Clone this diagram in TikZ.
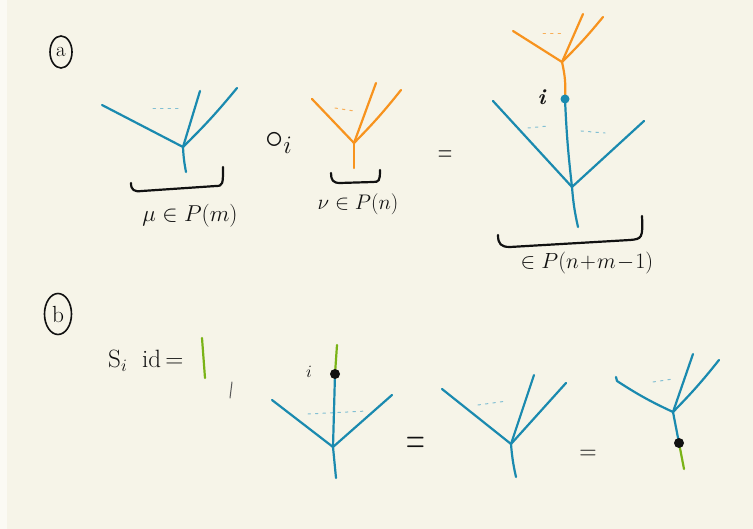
\documentclass[tikz,border=0pt]{standalone}
\usepackage{amssymb}
\usetikzlibrary{shapes.geometric}
\definecolor{bgc}{HTML}{F6F4E8}
\definecolor{stripc}{HTML}{FBFAF4}
\definecolor{tblue}{HTML}{1A8AAF}
\definecolor{torange}{HTML}{F7931E}
\definecolor{tgreen}{HTML}{7AB317}
\definecolor{ink}{HTML}{111111}
\begin{document}
\begin{tikzpicture}[x=1pt,y=-1pt,line cap=round,line join=round,
  bl/.style={tblue,line width=2.2pt},
  orl/.style={torange,line width=2.2pt},
  grl/.style={tgreen,line width=2.2pt},
  bk/.style={ink,line width=2.2pt},
  dotsb/.style={tblue!55,line width=1pt,dash pattern=on 2.5pt off 5pt},
  dotso/.style={torange!75,line width=1pt,dash pattern=on 2.5pt off 5pt},
  lbl/.style={ink,inner sep=0pt,font=\LARGE},
  circ/.style={draw=ink,line width=1.6pt,ellipse,inner sep=0pt,font=\LARGE}]
\fill[bgc] (0,0) rectangle (753,529);
\fill[stripc] (0,0) rectangle (7,529);
\useasboundingbox (0,0) rectangle (753,529);

% ---------- panel a ----------
\node[circ,minimum width=22pt,minimum height=32pt] (ca) at (61,52) {\scalebox{1.2}{a}};

% tree mu
\coordinate (a1r) at (183,147);
\coordinate (a1b) at (186,172);
\coordinate (a1l) at (102,105);
\coordinate (a1m) at (200,91);
\coordinate (a1x) at (237,88);
\draw[bl] (a1b) to[bend left=4] (a1r);
\draw[bl] (a1r) -- (a1l);
\draw[bl] (a1r) -- (a1m);
\draw[bl] (a1r) to[bend right=3] (a1x);
\draw[dotsb] (153,109) -- (178,109);
\draw[bk] (131,183) .. controls (131,190) and (134,192) .. (142,191) -- (216,186) .. controls (223,186) and (223,184) .. (223,167);
\node[lbl] (lmu) at (190,216) {\scalebox{1.33}{$\mu\in P(m)$}};

\node[lbl] (comp) at (279,143) {\scalebox{2.1}{$\circ_{i}$}};

% tree nu
\coordinate (a2r) at (354,143);
\coordinate (a2b) at (354,168);
\coordinate (a2l) at (312,99);
\coordinate (a2m) at (376,83);
\coordinate (a2x) at (401,90);
\draw[orl] (a2b) -- (a2r);
\draw[orl] (a2r) -- (a2l);
\draw[orl] (a2r) -- (a2m);
\draw[orl] (a2r) to[bend right=3] (a2x);
\draw[dotso] (335,108) -- (354,111);
\draw[bk] (331,173) .. controls (331,180) and (333,183) .. (340,183) -- (373,182) .. controls (379,182) and (380,181) .. (380,170);
\node[lbl] (lnu) at (358,204) {\scalebox{1.22}{$\nu\in P(n)$}};

\node[lbl] (eqa) at (445,156) {\scalebox{1.16}[1.74]{$=$}};

% composed tree
\coordinate (cr) at (572,187);
\coordinate (cb) at (578,227);
\coordinate (cl) at (493,101);
\coordinate (cx) at (644,121);
\coordinate (cd) at (565,99);
\coordinate (or) at (562,62);
\coordinate (ol) at (513,31);
\coordinate (om) at (583,14);
\coordinate (ox) at (603,17);
\draw[orl] (cd) to[bend right=8] (or);
\draw[orl] (or) -- (ol);
\draw[orl] (or) -- (om);
\draw[orl] (or) to[bend right=3] (ox);
\draw[dotso] (543,34) -- (565,34);
\draw[bl] (cb) to[bend left=4] (cr);
\draw[bl] (cr) to[bend left=2] (cd);
\draw[bl] (cr) -- (cl);
\draw[bl] (cr) -- (cx);
\fill[tblue] (cd) circle (4.5);
\node[lbl] (li) at (542,97) {\scalebox{1.27}{\textbf{\textit{i}}}};
\draw[dotsb] (528,128) -- (548,126);
\draw[dotsb] (581,131) -- (605,133);
\draw[bk] (498,235) .. controls (498,244) and (501,247) .. (510,247) -- (630,240) .. controls (642,239) and (643,238) .. (642,216);
\node[lbl] (lpn) at (587,263) {\scalebox{1.27}{$\in P(n\!+\!m\!-\!1)$}};

% ---------- panel b ----------
\node[circ,minimum width=27pt,minimum height=41pt] (cbb) at (58,314) {\scalebox{1.35}{b}};
\node[lbl,anchor=west] (si) at (108,361) {\scalebox{1.45}{S$_i$\; id$\,=$}};
\coordinate (idt) at (202,338);
\coordinate (idb) at (205,378);
\draw[grl] (idt) -- (idb);
\draw[gray!70!black,line width=1pt] (232,382) -- (230,398);

% tree b1
\coordinate (b1g) at (337,345);
\coordinate (b1d) at (335,374);
\coordinate (b1r) at (333,447);
\coordinate (b1b) at (336,478);
\coordinate (b1l) at (272,400);
\coordinate (b1x) at (392,395);
\draw[grl] (b1g) -- (b1d);
\draw[dotsb] (308,414) -- (367,411);
\draw[bl] (b1d) -- (b1r);
\draw[bl] (b1r) -- (b1b);
\draw[bl] (b1r) -- (b1l);
\draw[bl] (b1r) -- (b1x);
\fill[ink] (b1d) circle (5);
\node[lbl] (lbi) at (309,372) {$i$};

\node[lbl] (eqb1) at (416,446) {\scalebox{1.5}[2.8]{$=$}};

% tree b2
\coordinate (b2r) at (511,444);
\coordinate (b2b) at (516,477);
\coordinate (b2l) at (442,389);
\coordinate (b2m) at (534,375);
\coordinate (b2x) at (566,383);
\draw[bl] (b2b) to[bend left=4] (b2r);
\draw[bl] (b2r) -- (b2l);
\draw[bl] (b2r) -- (b2m);
\draw[bl] (b2r) -- (b2x);
\draw[dotsb] (478,405) -- (507,401);

\node[lbl] (eqb2) at (588,455) {\scalebox{1.39}[1.5]{$=$}};

% tree b3
\coordinate (b3r) at (673,412);
\coordinate (b3d) at (679,443);
\coordinate (b3g) at (684,469);
\coordinate (b3l) at (616,377);
\coordinate (b3m) at (693,354);
\coordinate (b3x) at (719,360);
\draw[grl] (b3d) -- (b3g);
\draw[bl] (b3d) -- (b3r);
\draw[bl] (b3r) to[bend left=4] (617,381) -- (b3l);
\draw[bl] (b3r) -- (b3m);
\draw[bl] (b3r) to[bend right=3] (b3x);
\draw[dotsb] (653,382) -- (673,379);
\fill[ink] (b3d) circle (5);
\end{tikzpicture}
\end{document}
